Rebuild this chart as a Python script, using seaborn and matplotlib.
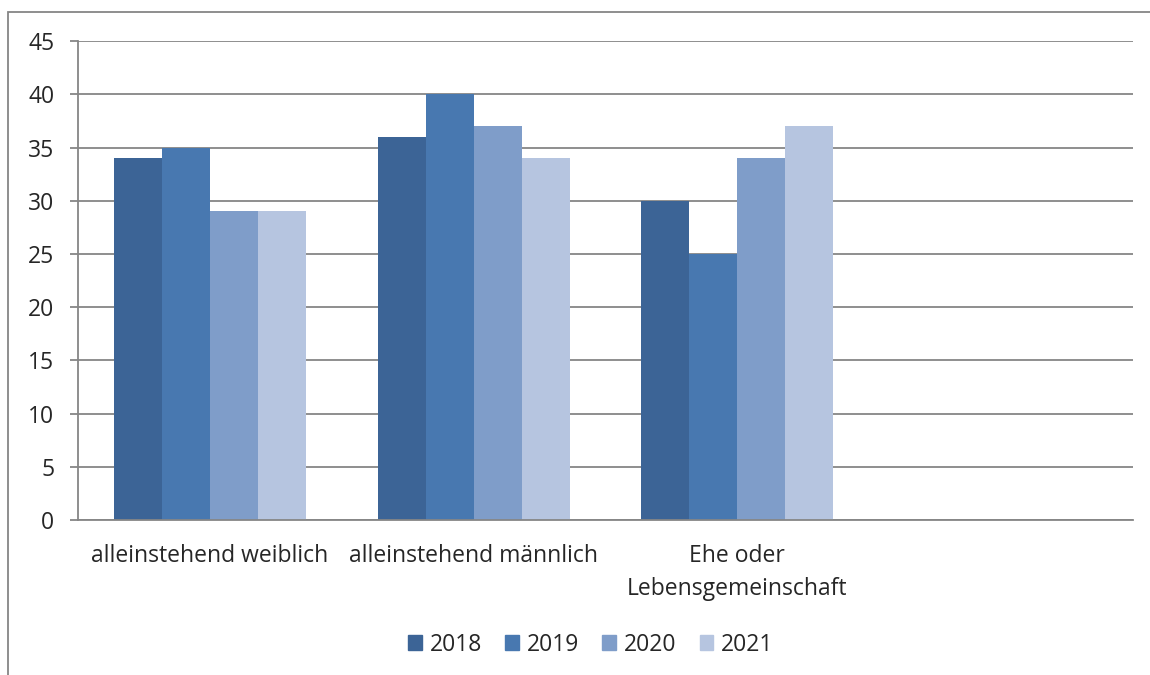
import seaborn as sns
import matplotlib.pyplot as plt
import matplotlib.patches as mpatches
import pandas as pd

# categories on the x axis (the fourth slot is empty in the original)
groups = ['alleinstehend weiblich', 'alleinstehend männlich',
          'Ehe oder\nLebensgemeinschaft', '']
years = ['2018', '2019', '2020', '2021']

v2018 = [34, 36, 30]
v2019 = [35, 40, 25]
v2020 = [29, 37, 34]
v2021 = [29, 34, 37]

colors = ['#3C6496', '#4878B0', '#7F9DC9', '#B6C5E0']

data = pd.DataFrame({'group': groups[:3], '2018': v2018, '2019': v2019,
                     '2020': v2020, '2021': v2021})
data_long = data.melt(id_vars='group', var_name='year', value_name='value')

sns.set_style('white')
plt.rcParams['font.family'] = ['Open Sans', 'DejaVu Sans']
fs = 16.5

fig = plt.figure(figsize=(11.5, 6.75), dpi=100)
ax = fig.add_axes([0.0678, 0.2296, 0.9174, 0.7094])

sns.barplot(data=data_long, x='group', y='value', hue='year', order=groups,
            hue_order=years, palette=colors, width=0.728, saturation=1,
            linewidth=0, ax=ax, legend=False)

ax.set_xlim(-0.5, 3.5)
ax.set_ylim(0, 45)
ax.set_yticks(range(0, 46, 5))
ax.yaxis.grid(True, color='#868686', linewidth=1.3)
ax.set_axisbelow(True)
for s in ['top', 'right']:
    ax.spines[s].set_visible(False)
for s in ['left', 'bottom']:
    ax.spines[s].set_color('#868686')
    ax.spines[s].set_linewidth(1.3)

# tick marks at category boundaries, labels at centres
ax.set_xticks([-0.5, 0.5, 1.5, 2.5, 3.5], minor=True)
ax.set_xticks(range(4))
ax.set_xticklabels(groups, fontsize=fs, linespacing=1.5)
ax.tick_params(axis='x', which='major', length=0, pad=17)
ax.tick_params(axis='x', which='minor', length=6, color='#868686', width=1.3)
ax.tick_params(axis='y', length=6, color='#868686', width=1.3,
               labelsize=fs, pad=11, left=True)
ax.set_xlabel('')
ax.set_ylabel('')

handles = [mpatches.Patch(color=c, label=y) for c, y in zip(colors, years)]
fig.legend(handles=handles, loc='center', bbox_to_anchor=(0.514, 0.045),
           ncol=4, frameon=False, fontsize=fs, handlelength=0.6,
           handleheight=0.6, handletextpad=0.35, columnspacing=1.0)

# outer chart border
fig.patches.append(mpatches.Rectangle((0.007, -0.01), 1.0, 0.992,
                                      transform=fig.transFigure, fill=False,
                                      edgecolor='#868686', linewidth=1.3))

plt.savefig('out.png', dpi=100)
